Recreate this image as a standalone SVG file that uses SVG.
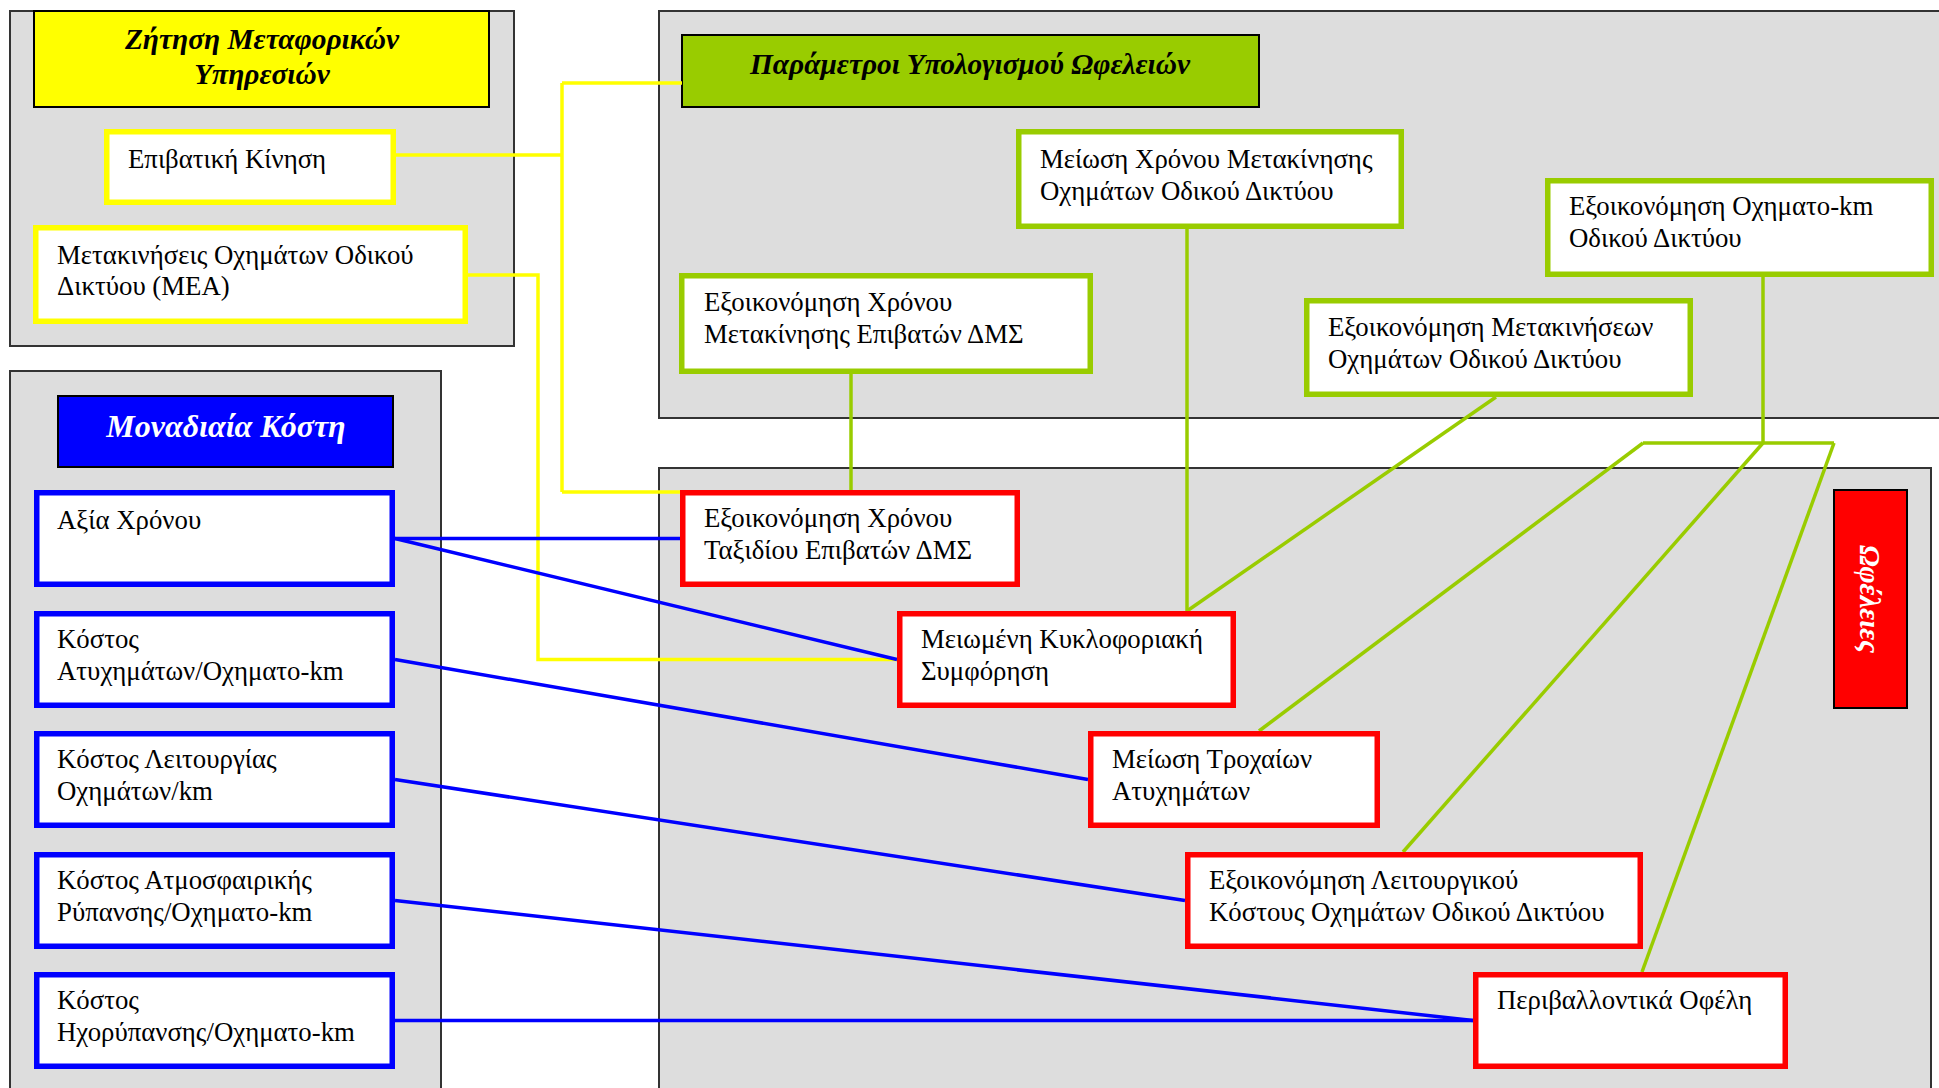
<svg xmlns="http://www.w3.org/2000/svg" width="1939" height="1088" viewBox="0 0 1939 1088">
<style>
.cont{fill:#DDDDDD;stroke:#333333;stroke-width:2}
.hdr{stroke:#000000;stroke-width:2}
.title{font-family:"Liberation Serif","Times New Roman",serif;font-weight:bold;font-style:italic;font-size:29.4px;fill:#000000;text-anchor:middle}
.txt{font-family:"Liberation Serif","Times New Roman",serif;font-size:26.8px;fill:#000000}
.ny{fill:#FFFFFF;stroke:#FFFF00;stroke-width:5.5}
.ng{fill:#FFFFFF;stroke:#99CC00;stroke-width:5.5}
.nb{fill:#FFFFFF;stroke:#0000FF;stroke-width:5.5}
.nr{fill:#FFFFFF;stroke:#FF0000;stroke-width:5.5}
.cy{fill:none;stroke:#FFFF00;stroke-width:3.5}
.cb{fill:none;stroke:#0000FF;stroke-width:3.5}
.cg{fill:none;stroke:#99CC00;stroke-width:3.5}
</style>
<rect width="1939" height="1088" fill="#FFFFFF"/>

<!-- containers -->
<g id="containers">
<rect class="cont" x="10" y="11" width="504" height="335"/>
<rect class="cont" x="659" y="11" width="1300" height="407"/>
<rect class="cont" x="10" y="371" width="431" height="800"/>
<rect class="cont" x="659" y="468" width="1272" height="700"/>
</g>

<!-- headers -->
<g id="hdr-demand">
<rect class="hdr" x="34" y="11" width="455" height="96" fill="#FFFF00"/>
<text class="title" x="262" y="49">Ζήτηση Μεταφορικών</text>
<text class="title" x="262" y="84">Υπηρεσιών</text>
</g>
<g id="hdr-params">
<rect class="hdr" x="682" y="35" width="577" height="72" fill="#99CC00"/>
<text class="title" x="970" y="74">Παράμετροι Υπολογισμού Ωφελειών</text>
</g>
<g id="hdr-costs">
<rect class="hdr" x="58" y="396" width="335" height="71" fill="#0000FF"/>
<text class="title" x="226" y="437" style="font-size:32px;fill:#FFFFFF">Μοναδιαία Κόστη</text>
</g>
<g id="hdr-benefits">
<rect class="hdr" x="1834" y="490" width="73" height="218" fill="#FF0000"/>
<text class="title" transform="translate(1870,599) rotate(90)" dy="0.33em" style="font-size:29px;fill:#FFFFFF">Ωφέλειες</text>
</g>

<!-- connectors -->
<g id="connectors">
<path class="cy" d="M396,155 H562 M562,83 V492 M562,83 H682 M562,492 H680"/>
<path class="cy" d="M468,275 H538 V659.5 H897"/>
<path class="cb" d="M395,538.5 H680"/>
<path class="cb" d="M395,538.5 L897,659.5"/>
<path class="cb" d="M395,659.5 L1088,779.5"/>
<path class="cb" d="M395,779.5 L1185,900.5"/>
<path class="cb" d="M395,900.5 L1473,1020.5"/>
<path class="cb" d="M395,1020.5 H1473"/>
<path class="cg" d="M851,374 V490"/>
<path class="cg" d="M1187,229 V611"/>
<path class="cg" d="M1496,397 L1187,611"/>
<path class="cg" d="M1763,277 V443 M1643,443 H1834"/>
<path class="cg" d="M1643,443 L1259,731"/>
<path class="cg" d="M1763,443 L1403,852"/>
<path class="cg" d="M1834,443 L1642,972"/>
</g>

<!-- yellow nodes -->
<g id="n-epivatiki">
<rect class="ny" x="106.75" y="131.75" width="286.5" height="70.5"/>
<text class="txt" x="128" y="168">Επιβατική Κίνηση</text>
</g>
<g id="n-metakiniseis">
<rect class="ny" x="35.75" y="227.75" width="429.5" height="93.5"/>
<text class="txt" x="57" y="264">Μετακινήσεις Οχημάτων Οδικού</text>
<text class="txt" x="57" y="295">Δικτύου (ΜΕΑ)</text>
</g>

<!-- green nodes -->
<g id="n-meiosi-xronou">
<rect class="ng" x="1018.75" y="131.75" width="382.5" height="94.5"/>
<text class="txt" x="1040" y="168">Μείωση Χρόνου Μετακίνησης</text>
<text class="txt" x="1040" y="200">Οχημάτων Οδικού Δικτύου</text>
</g>
<g id="n-oximatokm">
<rect class="ng" x="1547.75" y="180.75" width="383.5" height="93.5"/>
<text class="txt" x="1569" y="215">Εξοικονόμηση Οχηματο-km</text>
<text class="txt" x="1569" y="247">Οδικού Δικτύου</text>
</g>
<g id="n-xronos-dms">
<rect class="ng" x="681.75" y="275.75" width="408.5" height="95.5"/>
<text class="txt" x="704" y="311">Εξοικονόμηση Χρόνου</text>
<text class="txt" x="704" y="343">Μετακίνησης Επιβατών ΔΜΣ</text>
</g>
<g id="n-metakiniseon">
<rect class="ng" x="1306.75" y="300.75" width="383.5" height="93.5"/>
<text class="txt" x="1328" y="336">Εξοικονόμηση Μετακινήσεων</text>
<text class="txt" x="1328" y="368">Οχημάτων Οδικού Δικτύου</text>
</g>

<!-- blue nodes -->
<g id="n-axia">
<rect class="nb" x="36.75" y="492.75" width="355.5" height="91.5"/>
<text class="txt" x="57" y="529">Αξία Χρόνου</text>
</g>
<g id="n-atyximata">
<rect class="nb" x="36.75" y="613.75" width="355.5" height="91.5"/>
<text class="txt" x="57" y="648">Κόστος</text>
<text class="txt" x="57" y="680">Ατυχημάτων/Οχηματο-km</text>
</g>
<g id="n-leitourgia">
<rect class="nb" x="36.75" y="733.75" width="355.5" height="91.5"/>
<text class="txt" x="57" y="768">Κόστος Λειτουργίας</text>
<text class="txt" x="57" y="800">Οχημάτων/km</text>
</g>
<g id="n-atmosfairiki">
<rect class="nb" x="36.75" y="854.75" width="355.5" height="91.5"/>
<text class="txt" x="57" y="889">Κόστος Ατμοσφαιρικής</text>
<text class="txt" x="57" y="921">Ρύπανσης/Οχηματο-km</text>
</g>
<g id="n-ixorypansi">
<rect class="nb" x="36.75" y="974.75" width="355.5" height="91.5"/>
<text class="txt" x="57" y="1009">Κόστος</text>
<text class="txt" x="57" y="1041">Ηχορύπανσης/Οχηματο-km</text>
</g>

<!-- red nodes -->
<g id="n-taxidi">
<rect class="nr" x="682.75" y="492.75" width="334.5" height="91.5"/>
<text class="txt" x="704" y="527">Εξοικονόμηση Χρόνου</text>
<text class="txt" x="704" y="559">Ταξιδίου Επιβατών ΔΜΣ</text>
</g>
<g id="n-symforisi">
<rect class="nr" x="899.75" y="613.75" width="333.5" height="91.5"/>
<text class="txt" x="921" y="648">Μειωμένη Κυκλοφοριακή</text>
<text class="txt" x="921" y="680">Συμφόρηση</text>
</g>
<g id="n-troxaia">
<rect class="nr" x="1090.75" y="733.75" width="286.5" height="91.5"/>
<text class="txt" x="1112" y="768">Μείωση Τροχαίων</text>
<text class="txt" x="1112" y="800">Ατυχημάτων</text>
</g>
<g id="n-leitourgiko">
<rect class="nr" x="1187.75" y="854.75" width="452.5" height="91.5"/>
<text class="txt" x="1209" y="889">Εξοικονόμηση Λειτουργικού</text>
<text class="txt" x="1209" y="921">Κόστους Οχημάτων Οδικού Δικτύου</text>
</g>
<g id="n-perivallon">
<rect class="nr" x="1475.75" y="974.75" width="309.5" height="91.5"/>
<text class="txt" x="1497" y="1009">Περιβαλλοντικά Οφέλη</text>
</g>
</svg>
